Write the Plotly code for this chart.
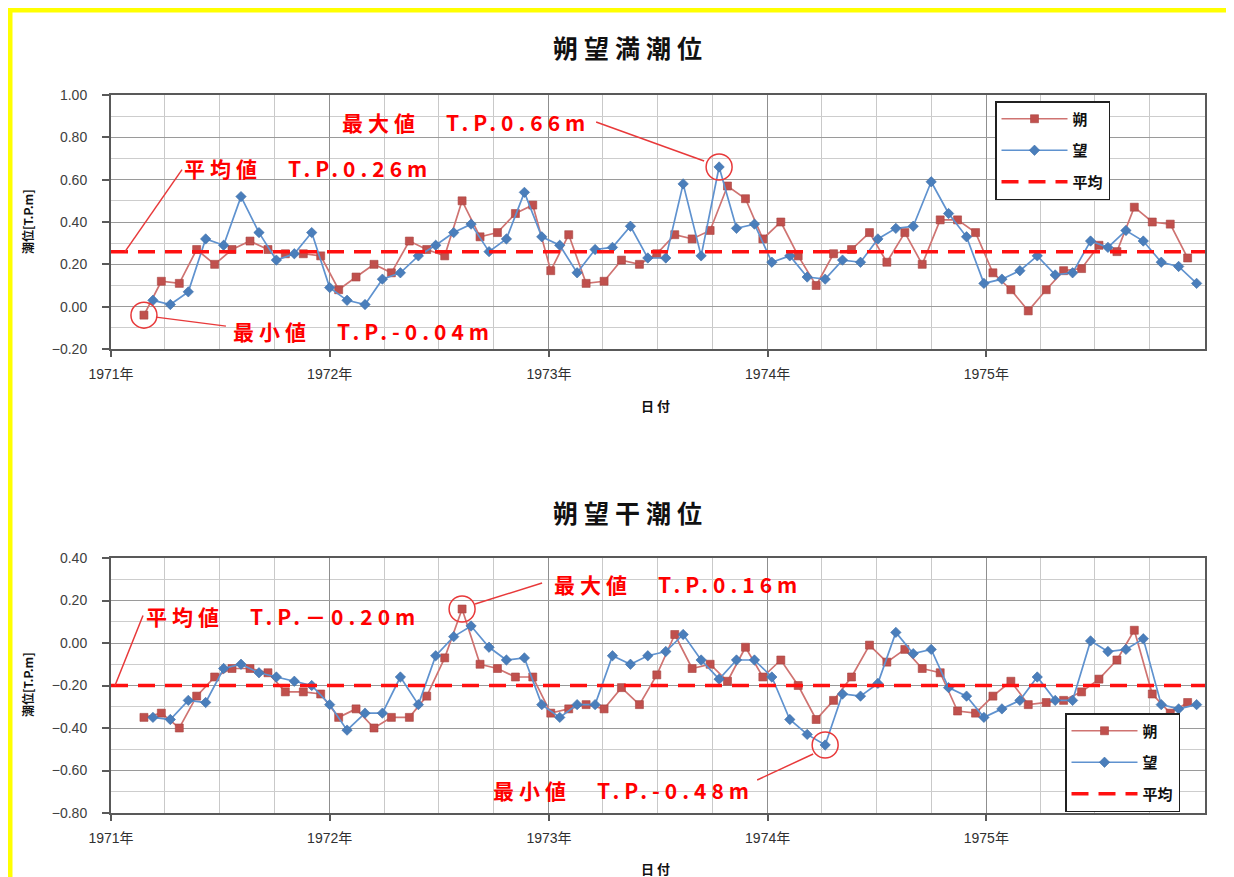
import numpy as np
import plotly.graph_objects as go

W, H = 1234, 877
OFF = 8  # page body margin in the browser

# ---------------- data ----------------
new_moon_dates = [
    "1971-02-25", "1971-03-26", "1971-04-25", "1971-05-24", "1971-06-23", "1971-07-22",
    "1971-08-21", "1971-09-20", "1971-10-19", "1971-11-18", "1971-12-17",
    "1972-01-16", "1972-02-14", "1972-03-15", "1972-04-13", "1972-05-13", "1972-06-11",
    "1972-07-11", "1972-08-09", "1972-09-08", "1972-10-07", "1972-11-06", "1972-12-05",
    "1973-01-04", "1973-02-03", "1973-03-04", "1973-04-03", "1973-05-02", "1973-06-01",
    "1973-06-30", "1973-07-30", "1973-08-28", "1973-09-27", "1973-10-26", "1973-11-25",
    "1973-12-24",
    "1974-01-23", "1974-02-21", "1974-03-23", "1974-04-21", "1974-05-21", "1974-06-20",
    "1974-07-19", "1974-08-18", "1974-09-16", "1974-10-16", "1974-11-14", "1974-12-14",
    "1975-01-12", "1975-02-11", "1975-03-12", "1975-04-11", "1975-05-10", "1975-06-09",
    "1975-07-08", "1975-08-07", "1975-09-05", "1975-10-05", "1975-11-04", "1975-12-03",
]
full_moon_dates = [
    "1971-03-12", "1971-04-10", "1971-05-10", "1971-06-08", "1971-07-08", "1971-08-06",
    "1971-09-05", "1971-10-04", "1971-11-03", "1971-12-02",
    "1972-01-01", "1972-01-30", "1972-02-29", "1972-03-29", "1972-04-28", "1972-05-28",
    "1972-06-26", "1972-07-26", "1972-08-24", "1972-09-23", "1972-10-22", "1972-11-21",
    "1972-12-20",
    "1973-01-19", "1973-02-17", "1973-03-19", "1973-04-17", "1973-05-17", "1973-06-15",
    "1973-07-15", "1973-08-13", "1973-09-12", "1973-10-12", "1973-11-10", "1973-12-10",
    "1974-01-08", "1974-02-07", "1974-03-08", "1974-04-07", "1974-05-06", "1974-06-05",
    "1974-07-04", "1974-08-03", "1974-09-01", "1974-10-01", "1974-10-30", "1974-11-29",
    "1974-12-28",
    "1975-01-27", "1975-02-26", "1975-03-27", "1975-04-26", "1975-05-25", "1975-06-24",
    "1975-07-23", "1975-08-22", "1975-09-20", "1975-10-20", "1975-11-18", "1975-12-18",
]

# 朔望満潮位 (high water)
high_new = [
    -0.04, 0.12, 0.11, 0.27, 0.20, 0.27, 0.31, 0.27, 0.25, 0.25,
    0.24, 0.08, 0.14, 0.20, 0.16, 0.31, 0.27, 0.24, 0.50, 0.33,
    0.35, 0.44, 0.48, 0.17, 0.34, 0.11, 0.12, 0.22, 0.20, 0.25,
    0.34, 0.32, 0.36, 0.57, 0.51, 0.32, 0.40, 0.24, 0.10, 0.25,
    0.27, 0.35, 0.21, 0.35, 0.20, 0.41, 0.41, 0.35, 0.16, 0.08,
    -0.02, 0.08, 0.17, 0.18, 0.29, 0.26, 0.47, 0.40, 0.39, 0.23,
]
high_full = [
    0.03, 0.01, 0.07, 0.32, 0.29, 0.52, 0.35, 0.22, 0.25, 0.35,
    0.09, 0.03, 0.01, 0.13, 0.16, 0.24, 0.29, 0.35, 0.39, 0.26,
    0.32, 0.54, 0.33, 0.29, 0.16, 0.27, 0.28, 0.38, 0.23, 0.23,
    0.58, 0.24, 0.66, 0.37, 0.39, 0.21, 0.24, 0.14, 0.13, 0.22,
    0.21, 0.32, 0.37, 0.38, 0.59, 0.44, 0.33, 0.11, 0.13, 0.17,
    0.24, 0.15, 0.16, 0.31, 0.28, 0.36, 0.31, 0.21, 0.19, 0.11,
]
# 朔望干潮位 (low water)
low_new = [
    -0.35, -0.33, -0.40, -0.25, -0.16, -0.12, -0.12, -0.14, -0.23, -0.23,
    -0.24, -0.35, -0.31, -0.40, -0.35, -0.35, -0.25, -0.07, 0.16, -0.10,
    -0.12, -0.16, -0.16, -0.33, -0.31, -0.29, -0.31, -0.21, -0.29, -0.15,
    0.04, -0.12, -0.10, -0.18, -0.02, -0.16, -0.08, -0.20, -0.36, -0.27,
    -0.16, -0.01, -0.09, -0.03, -0.12, -0.14, -0.32, -0.33, -0.25, -0.18,
    -0.29, -0.28, -0.27, -0.23, -0.17, -0.08, 0.06, -0.24, -0.33, -0.28,
]
low_full = [
    -0.35, -0.36, -0.27, -0.28, -0.12, -0.10, -0.14, -0.16, -0.18, -0.20,
    -0.29, -0.41, -0.33, -0.33, -0.16, -0.29, -0.06, 0.03, 0.08, -0.02,
    -0.08, -0.07, -0.29, -0.35, -0.29, -0.29, -0.06, -0.10, -0.06, -0.04,
    0.04, -0.08, -0.17, -0.08, -0.08, -0.16, -0.36, -0.43, -0.48, -0.24,
    -0.25, -0.19, 0.05, -0.05, -0.03, -0.21, -0.25, -0.35, -0.31, -0.27,
    -0.16, -0.27, -0.27, 0.01, -0.04, -0.03, 0.02, -0.29, -0.31, -0.29,
]
high_mean = 0.26
low_mean = -0.20

series_names = ["朔", "望", "平均"]
chart_titles = ["朔望満潮位", "朔望干潮位"]
x_title = "日付"
y_title = "潮位[T.P.m]"
x_range = ["1971-01-01", "1976-01-01"]
year_ticks = ["1971-01-01", "1972-01-01", "1973-01-01", "1974-01-01", "1975-01-01"]
year_labels = ["1971年", "1972年", "1973年", "1974年", "1975年"]
high_range = [-0.2, 1.0]
low_range = [-0.8, 0.4]

# ---------------- styling helpers ----------------
RED_MK = "#C0504D"
RED_LN = "#CF7371"
BLUE_MK = "#4A7EBB"
BLUE_LN = "#5F92CF"
MEAN_C = "#FF1010"
ANN_C = "#FF0000"
CIRC_C = "#E8393A"


def px(x):
    return (x - OFF) / W


def py(y):
    return 1 - (y - OFF) / H


fig = go.Figure()

panels = [
    dict(ax="", new=high_new, full=high_full, mean=high_mean, legend="legend",
         top=95, bottom=349, rng=high_range),
    dict(ax="2", new=low_new, full=low_full, mean=low_mean, legend="legend2",
         top=558, bottom=813, rng=low_range),
]

for p in panels:
    xa, ya = "x" + p["ax"], "y" + p["ax"]
    fig.add_trace(go.Scatter(
        x=new_moon_dates, y=p["new"], name=series_names[0], mode="lines+markers",
        line=dict(color=RED_LN, width=1.7),
        marker=dict(symbol="square", size=8, color=RED_MK, line=dict(color="#A84441", width=0.6)),
        xaxis=xa, yaxis=ya, legend=p["legend"], legendgroup=p["legend"] + "a"))
    fig.add_trace(go.Scatter(
        x=full_moon_dates, y=p["full"], name=series_names[1], mode="lines+markers",
        line=dict(color=BLUE_LN, width=1.7),
        marker=dict(symbol="diamond", size=8, color=BLUE_MK, line=dict(color="#3D6DA8", width=0.6)),
        xaxis=xa, yaxis=ya, legend=p["legend"], legendgroup=p["legend"] + "b"))
    fig.add_trace(go.Scatter(
        x=x_range, y=[p["mean"], p["mean"]], name=series_names[2], mode="lines",
        line=dict(color=MEAN_C, width=3.5, dash="17px,10px"),
        xaxis=xa, yaxis=ya, legend=p["legend"], legendgroup=p["legend"] + "c"))

tickfont = dict(family="Liberation Sans, Noto Sans CJK JP", size=14, color="#404040")
xtickfont = dict(family="Liberation Sans, Noto Sans CJK JP", size=14, color="#303030")

layout_axes = {}
for p in panels:
    xa_key = "xaxis" + p["ax"]
    ya_key = "yaxis" + p["ax"]
    layout_axes[xa_key] = dict(
        domain=[px(111), px(1205)], anchor="y" + p["ax"], type="date", range=x_range,
        tickmode="array", tickvals=year_ticks, ticktext=year_labels,
        ticks="outside", ticklen=6,
        tickcolor="#595959", tickwidth=1.5, tickfont=xtickfont, ticklabelstandoff=5,
        showline=True, linecolor="#595959", linewidth=2, mirror=True,
        showgrid=True, gridcolor="#8F8F8F", gridwidth=1.3, zeroline=False,
        minor=dict(dtick="M3", tick0="1971-01-01", showgrid=True, gridcolor="#C9C9C9", gridwidth=1),
        fixedrange=True, automargin=False,
    )
    layout_axes[ya_key] = dict(
        domain=[py(p["bottom"]), py(p["top"])], anchor="x" + p["ax"], range=p["rng"],
        dtick=0.2, tick0=0, tickformat=".2f", ticks="outside", ticklen=7,
        tickcolor="#595959", tickwidth=1.5, tickfont=tickfont, ticklabelstandoff=12,
        showline=True, linecolor="#595959", linewidth=2, mirror=True,
        showgrid=True, gridcolor="#9A9A9A", gridwidth=1.3, zeroline=False,
        minor=dict(dtick=0.1, tick0=0, showgrid=True, gridcolor="#CDCDCD", gridwidth=1),
        fixedrange=True, automargin=False,
    )


def legend_cfg(x, y):
    return dict(
        x=px(x), y=py(y), xanchor="left", yanchor="top", xref="paper", yref="paper",
        bgcolor="white", bordercolor="#202020", borderwidth=1.5,
        font=dict(family="Noto Sans CJK JP", size=15, color="#111111", weight="bold"),
        tracegroupgap=9, itemwidth=66, traceorder="grouped",
    )


annotations = []
shapes = []

# titles
for title, yc in zip(chart_titles, [47, 512]):
    annotations.append(dict(
        text=f'<b><span style="letter-spacing:6px">{title}</span></b>', x=px(630), y=py(yc),
        xref="paper", yref="paper", xanchor="center", yanchor="middle", showarrow=False,
        font=dict(family="Noto Sans CJK JP", size=25, color="#111111")))
# axis titles
for yc in [222, 685]:
    annotations.append(dict(
        text=f"<b>{y_title}</b>", x=px(27), y=py(yc), xref="paper", yref="paper",
        xanchor="center", yanchor="middle", showarrow=False, textangle=-90,
        font=dict(family="Noto Sans CJK JP", size=12, color="#111111")))
for yc in [405, 868]:
    annotations.append(dict(
        text=f'<b><span style="letter-spacing:3px">{x_title}</span></b>', x=px(657), y=py(yc),
        xref="paper", yref="paper", xanchor="center", yanchor="middle", showarrow=False,
        font=dict(family="Noto Sans CJK JP", size=13, color="#111111")))


def red_text(s, xc, yc):
    annotations.append(dict(
        text=f'<b><span style="letter-spacing:5px">{s}</span></b>', x=px(xc), y=py(yc),
        xref="paper", yref="paper", xanchor="center", yanchor="middle", showarrow=False,
        font=dict(family="Noto Sans CJK JP", size=21, color=ANN_C)))


def pix_shape(kind, ax, xval, yval, x0, y0, x1, y1, width=1.5):
    shapes.append(dict(
        type=kind, xref="x" + ax, yref="y" + ax, xsizemode="pixel", ysizemode="pixel",
        xanchor=xval, yanchor=yval, x0=x0, y0=y0, x1=x1, y1=y1,
        line=dict(color=CIRC_C, width=width), layer="above"))


# top chart callouts
i_max = int(np.argmax(high_full))
i_min = int(np.argmin(high_new))
red_text(f"最大値　T.P.{high_full[i_max]:.2f}m", 466, 122)
pix_shape("circle", "", full_moon_dates[i_max], high_full[i_max], -13, -13, 13, 13)
pix_shape("line", "", full_moon_dates[i_max], high_full[i_max], -15, 6, -123, 45)
red_text(f"最小値　T.P.{high_new[i_min]:.2f}m", 363, 331)
pix_shape("circle", "", new_moon_dates[i_min], high_new[i_min], -13, -13, 13, 13)
pix_shape("line", "", new_moon_dates[i_min], high_new[i_min], 12, -2, 82, -11)
red_text(f"平均値　T.P.{high_mean:.2f}m", 308, 168)
pix_shape("line", "", x_range[0], high_mean, 14, 0, 71, 82)

# bottom chart callouts
j_max = int(np.argmax(low_new))
j_min = int(np.argmin(low_full))
red_text(f"最大値　T.P.{low_new[j_max]:.2f}m", 678, 584)
pix_shape("circle", "2", new_moon_dates[j_max], low_new[j_max], -13, -13, 13, 13)
pix_shape("line", "2", new_moon_dates[j_max], low_new[j_max], 13, 5, 80, 26)
red_text(f"最小値　T.P.{low_full[j_min]:.2f}m", 623, 790)
pix_shape("circle", "2", full_moon_dates[j_min], low_full[j_min], -13, -13, 13, 13)
pix_shape("line", "2", full_moon_dates[j_min], low_full[j_min], -12, -9, -68, -35)
red_text(f"平均値　T.P.－{abs(low_mean):.2f}m", 283, 616)
pix_shape("line", "2", x_range[0], low_mean, 4, 0, 32, 70)

# yellow frame (page coords, clipped to the figure)
YEL = "#FFFF00"
shapes += [
    dict(type="rect", xref="paper", yref="paper", x0=0, x1=px(12.5), y0=0, y1=1,
         fillcolor=YEL, line=dict(width=0), layer="above"),
    dict(type="rect", xref="paper", yref="paper", x0=0, x1=px(1229), y0=py(12.5), y1=1,
         fillcolor=YEL, line=dict(width=0), layer="above"),
    dict(type="rect", xref="paper", yref="paper", x0=px(1226.5), x1=px(1229), y0=0, y1=1,
         fillcolor="#FFFF80", line=dict(width=0), layer="above"),
]

fig.update_layout(
    width=W, height=H, autosize=False,
    margin=dict(l=0, r=0, t=0, b=0, pad=0, autoexpand=False),
    paper_bgcolor="white", plot_bgcolor="white",
    showlegend=True,
    legend=legend_cfg(995, 101),
    legend2=legend_cfg(1065, 713),
    annotations=annotations, shapes=shapes,
    font=dict(family="Noto Sans CJK JP"),
    **layout_axes,
)

fig.write_html("out.html")
